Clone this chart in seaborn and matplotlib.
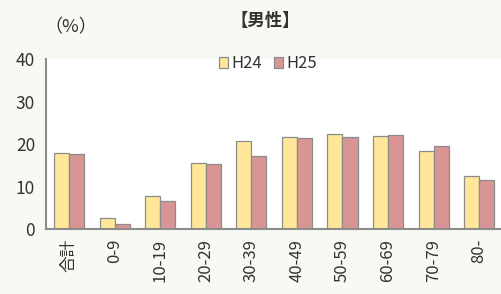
import pandas as pd
import numpy as np
import matplotlib.pyplot as plt
import seaborn as sns

# ========== DATOS ==========
categorias = ["合計", "0-9", "10-19", "20-29", "30-39", "40-49", "50-59", "60-69", "70-79", "80-"]
h24 = [17.8, 2.5, 7.8, 15.6, 20.8, 21.6, 22.3, 21.9, 18.4, 12.5]
h25 = [17.6, 1.3, 6.7, 15.2, 17.2, 21.4, 21.6, 22.1, 19.6, 11.6]
series = ["H24", "H25"]

df = pd.DataFrame({
    "cat": categorias * 2,
    "valor": h24 + h25,
    "serie": ["H24"] * len(h24) + ["H25"] * len(h25),
})

# ========== ESTILO ==========
sns.set_style("white")
plt.rcParams["font.family"] = ["Noto Sans CJK JP", "DejaVu Sans"]
texto = "#333333"
gris = "#8c8c8c"

fig = plt.figure(figsize=(5.02, 2.94), dpi=100)
fig.patch.set_facecolor("#f7f9f3")
ax = fig.add_axes([0.092, 0.221, 0.908, 0.578])
ax.set_facecolor("white")

sns.barplot(data=df, x="cat", y="valor", hue="serie", order=categorias,
            hue_order=series, palette=["#ffe699", "#d99594"], saturation=1,
            edgecolor=gris, linewidth=0.9, width=0.66, ax=ax)

ax.set_ylim(0, 40)
ax.set_xlim(-0.5, len(categorias) - 0.5)
ax.set_yticks([0, 10, 20, 30, 40])
ax.set_xlabel("")
ax.set_ylabel("")

# ticks en los límites de cada categoría (estilo Excel)
ax.set_xticks(np.arange(len(categorias)))
ax.set_xticklabels(categorias, rotation=90, color=texto, fontsize=12)
ax.set_xticks(np.arange(-0.5, len(categorias)), minor=True)
ax.tick_params(axis="x", which="major", length=0, pad=7)
ax.tick_params(axis="x", which="minor", length=5, width=1.2, color=gris, direction="out")
ax.tick_params(axis="y", length=5, width=1.2, color=gris, direction="out",
               labelsize=12.5, labelcolor=texto, pad=3)

for s in ["top", "right"]:
    ax.spines[s].set_visible(False)
for s in ["left", "bottom"]:
    ax.spines[s].set_color(gris)
    ax.spines[s].set_linewidth(1.5)

leg = ax.legend(loc="upper center", bbox_to_anchor=(0.487, 1.11), ncol=2, frameon=False,
                fontsize=12, handlelength=0.55, handleheight=0.55, handletextpad=0.2,
                columnspacing=0.7)
for t in leg.get_texts():
    t.set_color(texto)
for h in leg.legend_handles:
    h.set_edgecolor(gris)

fig.text(0.528, 0.93, "【男性】", ha="center", va="center", fontsize=12.5,
         fontweight="bold", color=texto)
fig.text(0.141, 0.908, "（%）", ha="center", va="center", fontsize=13, color=texto)

fig.savefig("out.png", dpi=100, facecolor=fig.get_facecolor())
